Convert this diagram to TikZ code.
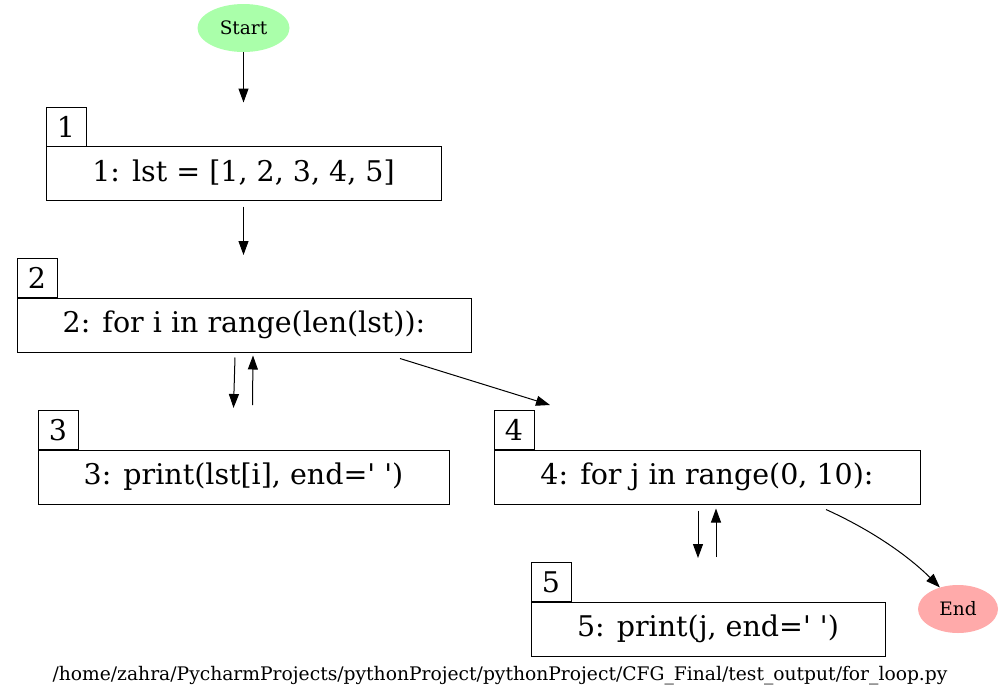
\documentclass[tikz,border=0pt]{standalone}
\usepackage{fontspec}
\setmainfont{DejaVu Serif}[Ligatures=TeXOff]
\usetikzlibrary{arrows.meta,shapes.geometric}
\definecolor{startc}{HTML}{AAFFAA}
\definecolor{endc}{HTML}{FFAAAA}
\tikzset{
  hdr/.style={draw, line width=1pt, inner sep=0pt, minimum width=40pt, minimum height=39pt, font=\fontsize{28.5}{32}\selectfont},
  body/.style={draw, line width=1pt, inner sep=0pt, minimum height=54pt, font=\fontsize{28.5}{32}\selectfont},
  term/.style={ellipse, inner sep=0pt, font=\fontsize{18.5}{22}\selectfont},
  edge/.style={line width=1pt, -{Triangle[length=14pt,width=10pt]}},
}
\begin{document}
\begin{tikzpicture}[x=1pt,y=-1pt]
\useasboundingbox (0,0) rectangle (1002,697);
\node[term, fill=startc, minimum width=92pt, minimum height=48pt] (start) at (243.5,28) {Start};
\node[term, fill=endc, minimum width=80pt, minimum height=48pt] (end) at (958,609) {End};

\node[hdr] (h1) at (66,126.5) {1};
\node[body, minimum width=395pt] (b1) at (243.5,173) {1: lst = [1, 2, 3, 4, 5]};
\node[hdr] (h2) at (37,278) {2};
\node[body, minimum width=454pt] (b2) at (244,325) {2: for i in range(len(lst)):};
\node[hdr] (h3) at (58,430) {3};
\node[body, minimum width=411pt] (b3) at (243.5,477) {3: print(lst[i], end=' ')};
\node[hdr] (h4) at (514,430) {4};
\node[body, minimum width=426pt] (b4) at (707,477) {4: for j in range(0, 10):};
\node[hdr] (h5) at (551,582) {5};
\node[body, minimum width=354pt] (b5) at (708,629) {5: print(j, end=' ')};

\node[font=\fontsize{18.7}{22}\selectfont] (path) at (500,676) {/home/zahra/PycharmProjects/pythonProject/pythonProject/CFG\_Final/test\_output/for\_loop.py};

\draw[edge] (start.south) -- ([yshift=4pt]start.south |- h1.north);
\draw[edge] ([yshift=-6pt]b1.south) -- ([yshift=3pt]b1.south |- h2.north);
\draw[edge] ([xshift=-9pt,yshift=-5pt]b2.south) -- ([xshift=-10pt,yshift=2pt]b3.north |- h3.north);
\draw[edge] ([xshift=9pt,yshift=5pt]b3.north |- h3.north) -- ([xshift=9pt,yshift=-3pt]b2.south);
\draw[edge] ([xshift=156pt,yshift=-6pt]b2.south) -- ([xshift=-157pt,yshift=5pt]b4.north |- h4.north);
\draw[edge] ([xshift=-9pt,yshift=-6pt]b4.south) -- ([xshift=-10pt,yshift=4pt]b5.north |- h5.north);
\draw[edge] ([xshift=8pt,yshift=5pt]b5.north |- h5.north) -- ([xshift=9pt,yshift=-4pt]b4.south);
\draw[edge] ([xshift=119pt,yshift=-5pt]b4.south) .. controls ++(55,25) and ++(-25,-25) .. (end.130);
\end{tikzpicture}
\end{document}
